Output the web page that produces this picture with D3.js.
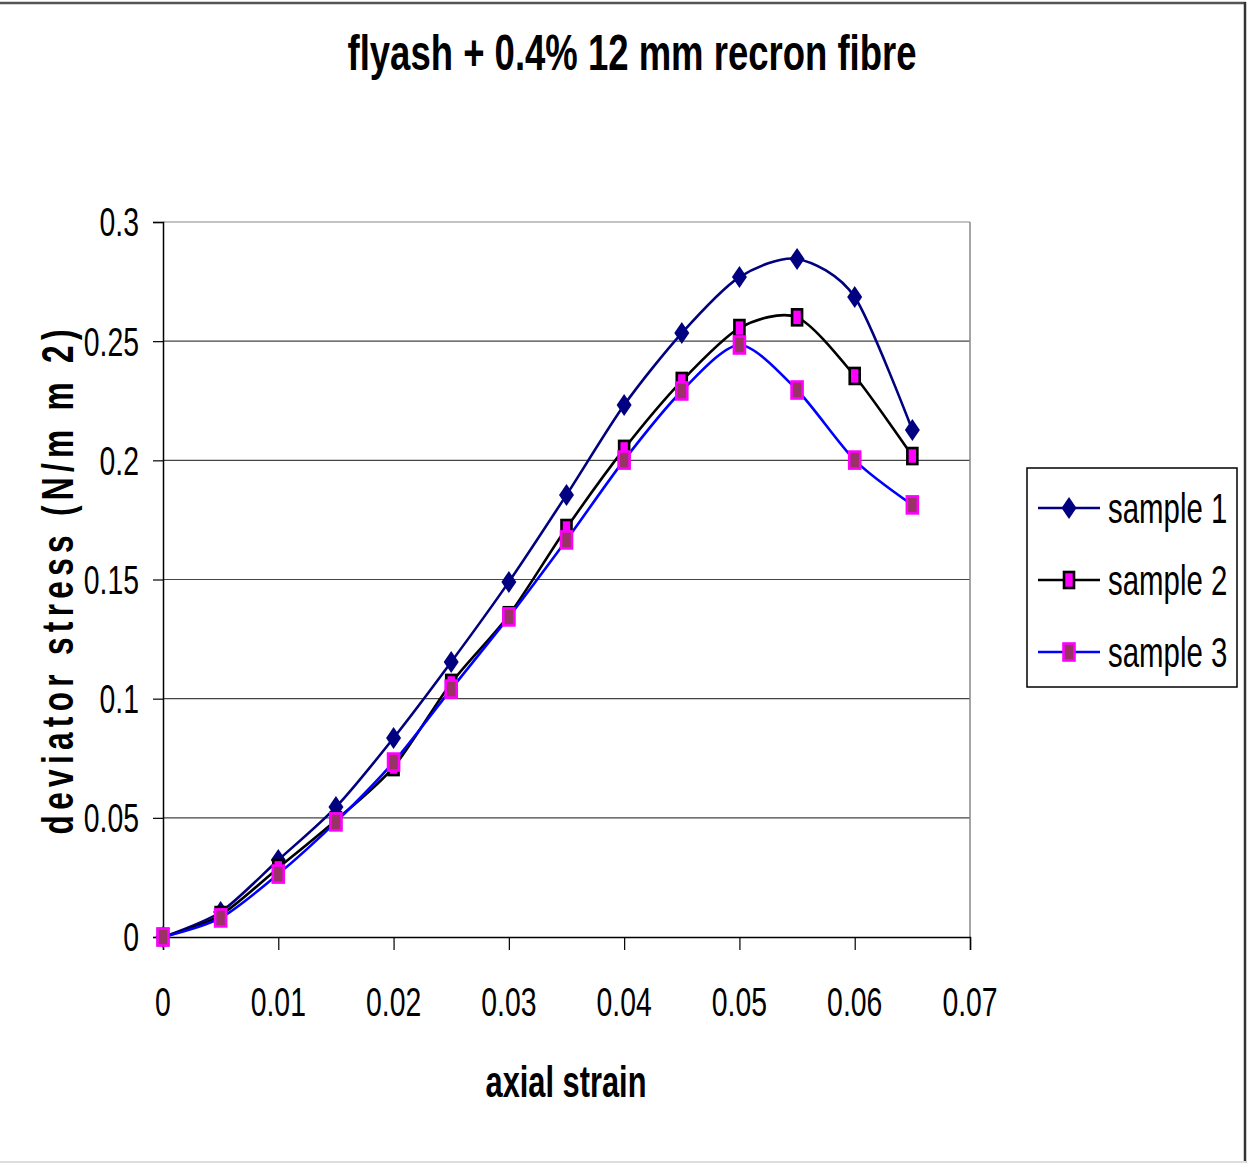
<!DOCTYPE html>
<html><head><meta charset="utf-8">
<script src="https://cdn.jsdelivr.net/npm/d3@7"></script>
<style>
body{margin:0;background:#fff;}
text{font-family:"Liberation Sans",Arial,sans-serif;}
</style></head>
<body><svg id="c" width="1247" height="1163"></svg>
<script>
const strain = [0,0.005,0.01,0.015,0.02,0.025,0.03,0.035,0.04,0.045,0.05,0.055,0.06,0.065];
const sample1 = [0,0.0105,0.0323,0.0545,0.0835,0.1154,0.149,0.1855,0.2232,0.2534,0.2769,0.2845,0.2685,0.2127];
const sample2 = [0,0.0092,0.029,0.049,0.0713,0.1066,0.135,0.1716,0.2048,0.2333,0.2555,0.260,0.2354,0.2018];
const sample3 = [0,0.008,0.0264,0.0483,0.0734,0.104,0.1343,0.1666,0.2001,0.2291,0.2484,0.2295,0.2001,0.1813];
const seriesNames = ["sample 1","sample 2","sample 3"];
const xTicks = [0,0.01,0.02,0.03,0.04,0.05,0.06,0.07];
const yTicks = [0,0.05,0.1,0.15,0.2,0.25,0.3];
const titleText = "flyash + 0.4% 12 mm recron fibre";
const xTitle = "axial strain";
const yTitle = "deviator stress  (N/m m 2)";

const svg = d3.select("#c");
// outer frame
svg.append("line").attr("x1",0).attr("x2",1246).attr("y1",3).attr("y2",3).attr("stroke","#555").attr("stroke-width",2.5);
svg.append("line").attr("x1",1245).attr("x2",1245).attr("y1",2).attr("y2",1163).attr("stroke","#333").attr("stroke-width",2.5);
svg.append("line").attr("x1",0).attr("x2",1246).attr("y1",1162).attr("y2",1162).attr("stroke","#ddd").attr("stroke-width",2);

const x = d3.scaleLinear().domain([0,0.07]).range([163,970]);
const y = d3.scaleLinear().domain([0,0.3]).range([937,222]);

// narrow text helper
function ntext(parent, tx, ty, str, size, sx, opts={}){
  const g = parent.append("g").attr("transform",`translate(${tx},${ty})${opts.rotate?` rotate(${opts.rotate})`:""}`);
  const t = g.append("text").attr("transform",`scale(${sx},1)`)
    .attr("font-size",size).attr("fill","#000")
    .attr("text-anchor",opts.anchor||"start")
    .attr("font-weight",opts.bold?"bold":"normal")
    .attr("dy",opts.dy||0).text(str);
  if(opts.textLength){t.attr("textLength",opts.textLength).attr("lengthAdjust","spacing");}
  return t;
}

// gridlines
svg.append("g").selectAll("line").data(yTicks.filter(d=>d>0)).join("line")
  .attr("x1",163).attr("x2",970).attr("y1",d=>y(d)).attr("y2",d=>y(d))
  .attr("stroke",d=>d===0.3?"#888":"#444").attr("stroke-width",1.2);
svg.append("line").attr("x1",970).attr("x2",970).attr("y1",222).attr("y2",937).attr("stroke","#888").attr("stroke-width",1.5);

// axes
const yAxis = d3.axisLeft(y).tickValues(yTicks).tickSize(10).tickFormat("");
const gy = svg.append("g").attr("transform","translate(163,0)").call(yAxis);
gy.select(".domain").attr("stroke","#000").attr("stroke-width",1.5);
gy.selectAll(".tick line").attr("stroke","#000").attr("stroke-width",1.2);
yTicks.forEach(v=>ntext(svg,139,y(v),String(+v.toFixed(2)),40,0.71,{anchor:"end",dy:"0.36em"}));

const xAxis = d3.axisBottom(x).tickValues(xTicks).tickSize(13).tickFormat("");
const gx = svg.append("g").attr("transform","translate(0,937)").call(xAxis);
gx.select(".domain").attr("stroke","#000").attr("stroke-width",1.5);
gx.selectAll(".tick line").attr("stroke","#000").attr("stroke-width",1.2);
xTicks.forEach(v=>ntext(svg,x(v),1002,String(+v.toFixed(2)),40,0.71,{anchor:"middle",dy:"0.36em"}));

const series = [
  {name:seriesNames[0], vals:sample1, color:"#000080"},
  {name:seriesNames[1], vals:sample2, color:"#000000"},
  {name:seriesNames[2], vals:sample3, color:"#0000FF"}
];
const line = d3.line().x((d,i)=>x(strain[i])).y(d=>y(d)).curve(d3.curveCardinal.tension(0.2));

function marker(g, k){
  if(k===0){
    g.append("path").attr("d","M0,-11L7.5,0L0,11L-7.5,0Z").attr("fill","#000080");
  } else if(k===1){
    g.append("rect").attr("x",-5).attr("y",-8).attr("width",10).attr("height",16)
      .attr("fill","#FF00FF").attr("stroke","#000").attr("stroke-width",2.6);
  } else {
    g.append("rect").attr("x",-5.5).attr("y",-8.5).attr("width",11).attr("height",17)
      .attr("fill","#993366").attr("stroke","#FF00FF").attr("stroke-width",2.6);
  }
}

series.forEach((s,k)=>{
  svg.append("path").datum(s.vals).attr("d",line).attr("fill","none")
    .attr("stroke",s.color).attr("stroke-width",2.6);
});
series.forEach((s,k)=>{
  svg.append("g").selectAll("g").data(s.vals).join("g")
    .attr("transform",(d,i)=>`translate(${x(strain[i])},${y(d)})`)
    .each(function(){marker(d3.select(this),k);});
});

// titles
ntext(svg,632,70,titleText,50,0.73,{anchor:"middle",bold:true});
ntext(svg,566,1097,xTitle,44,0.70,{anchor:"middle",bold:true});
ntext(svg,73,582,yTitle,44,0.72,{anchor:"middle",bold:true,rotate:-90,textLength:505/0.72});

// legend
const lg = svg.append("g");
lg.append("rect").attr("x",1027).attr("y",468).attr("width",210).attr("height",219)
  .attr("fill","#fff").attr("stroke","#000").attr("stroke-width",1.5);
series.forEach((s,k)=>{
  const yy = 508 + k*72;
  lg.append("line").attr("x1",1038).attr("x2",1100).attr("y1",yy).attr("y2",yy)
    .attr("stroke",s.color).attr("stroke-width",2.6);
  const mg = lg.append("g").attr("transform",`translate(1069,${yy})`);
  marker(mg,k);
  ntext(lg,1108,yy,s.name,42,0.70,{dy:"0.36em"});
});
</script></body></html>
